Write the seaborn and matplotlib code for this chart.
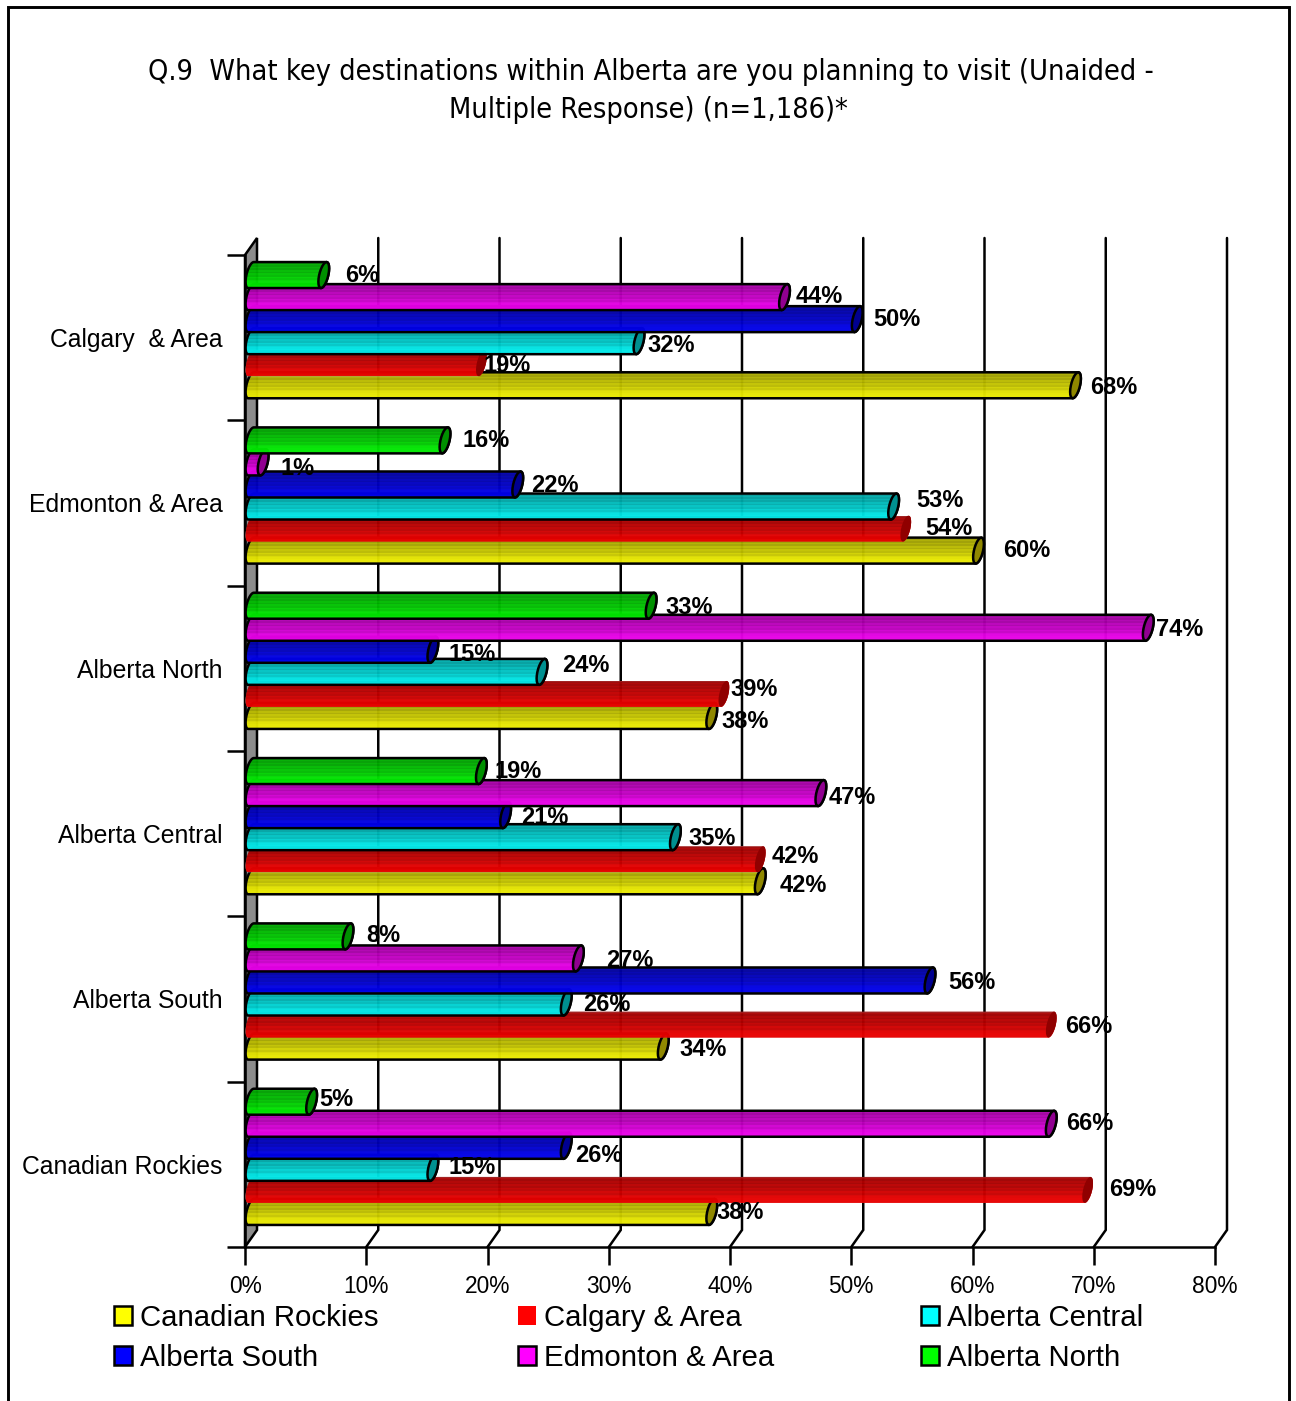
import numpy as np
import pandas as pd
import matplotlib
matplotlib.use("Agg")
import matplotlib.pyplot as plt
import seaborn as sns
from matplotlib.patches import Patch, PathPatch, Polygon, Rectangle
from matplotlib.path import Path
from matplotlib.colors import to_rgb

destinations = ["Calgary  & Area", "Edmonton & Area", "Alberta North",
                "Alberta Central", "Alberta South", "Canadian Rockies"]
segments = ["Alberta North", "Edmonton & Area", "Alberta South",
            "Alberta Central", "Calgary & Area", "Canadian Rockies"]
north = [6, 16, 33, 19, 8, 5]
edmonton = [44, 1, 74, 47, 27, 66]
south = [50, 22, 15, 21, 56, 26]
central = [32, 53, 24, 35, 26, 15]
calgary = [19, 54, 39, 42, 66, 69]
rockies = [68, 60, 38, 42, 34, 38]
series = [north, edmonton, south, central, calgary, rockies]
segment_colors = ["#00ff00", "#ff00ff", "#0000ff", "#00ffff", "#ff0000", "#ffff00"]
cap_colors = ["#009000", "#900090", "#000090", "#009090", "#900000", "#908800"]
x_ticks = [0, 10, 20, 30, 40, 50, 60, 70, 80]
legend_columns = [["Canadian Rockies", "Alberta South"],
                  ["Calgary & Area", "Edmonton & Area"],
                  ["Alberta Central", "Alberta North"]]

# hand placement of value labels, in pixels from the end of each bar
label_dx = [[21, 17, 14, 13.6, 18, 7.4],
            [11.5, 17, 8, 8, 27.6, 15],
            [16, 13, 16, 15, 18, 9],
            [8, 23, 20, 12.6, 17, 16],
            [2.6, 19, 7, 11, 14, 22],
            [14.5, 24.5, 10, 19, 16, 5]]
label_dy = [[-1.5, -2, 0, -2, -3, -4],
            [-2.5, 4, 0, 2, 0, -2],
            [-1.5, -1, 3, 0, 0, 8],
            [2.5, -8, -8, -1, 0, -2],
            [0.5, -2, -6, -5, 0, -2],
            [0.5, -2, 4, 2, 1, -1]]

df = pd.DataFrame({
    "destination": destinations * len(segments),
    "segment": np.repeat(segments, len(destinations)),
    "share": np.concatenate(series),
})

W, H = 1296, 1401
sns.set_theme(style="white")
plt.rcParams["font.family"] = ["Liberation Sans", "DejaVu Sans"]
plt.rcParams["text.color"] = "black"
plt.rcParams["xtick.color"] = "black"
plt.rcParams["ytick.color"] = "black"

fig = plt.figure(figsize=(W / 100, H / 100), dpi=100, facecolor="white")
ax = fig.add_axes([245 / W, 1 - 1247 / H, 970 / W, 992 / H])
sns.barplot(data=df, y="destination", x="share", hue="segment",
            order=destinations, hue_order=segments,
            palette=dict(zip(segments, segment_colors)),
            saturation=1, width=0.8, gap=0, legend=False, ax=ax, zorder=5)
ax.set_xlim(0, 80)
ax.set_ylim(5.5, -0.5)
ax.set_xlabel("")
ax.set_ylabel("")
ax.grid(False)

# pixel sizes expressed in data units
px_x = 80 / 970
px_y = 6 / 992
depth_x, depth_y = 12 * px_x, 17 * px_y
LW = 1.8

# side wall and back-plane rules of the pseudo-3D frame
ax.add_patch(Polygon([(0, 5.5), (depth_x, 5.5 - depth_y), (depth_x, -0.5 - depth_y), (0, -0.5)],
                     closed=True, facecolor="#8c8c8c", edgecolor="black", lw=LW,
                     clip_on=False, zorder=1))
for v in x_ticks[1:]:
    ax.plot([v, v + depth_x, v + depth_x], [5.5, 5.5 - depth_y, -0.5 - depth_y],
            color="black", lw=LW, clip_on=False, zorder=1, solid_joinstyle="miter")

# stripe pattern across the height of a cylinder, dark at the top
shade = np.array([.58, .66, .60, .68, .62, .72, .66, .76, .72, .82, .78, .86, .90, .92, .93, .92])


def cylinder_end(xc, yc, half_h, start, stop):
    t = np.radians(np.linspace(start, stop, 25))
    return np.column_stack([xc + 4.6 * px_x * np.cos(t) - 2.8 * px_x * np.sin(t),
                            yc + half_h * np.sin(t)])


half_h = 13 * px_y
for k, container in enumerate(ax.containers):
    base = np.array(to_rgb(segment_colors[k]))
    rgb = np.clip(shade[:, None, None] * base[None, None, :], 0, 1)
    edge = "black" if segments[k] != "Calgary & Area" else "none"
    for i, bar in enumerate(container):
        value = bar.get_width()
        yc = bar.get_y() + bar.get_height() / 2 - 7.5 * px_y
        x0, x1 = depth_x / 2, value + depth_x / 2
        z = 6 - k * 0.1
        outline = np.vstack([cylinder_end(x0, yc, half_h, 270, 90),
                             cylinder_end(x1, yc, half_h, 90, -90)])
        body = PathPatch(Path(np.vstack([outline, outline[:1]]), closed=True),
                         facecolor="none", edgecolor=edge, lw=LW, zorder=z + 0.02, clip_on=False)
        ax.add_patch(body)
        bar.set_y(yc - half_h)
        bar.set_height(2 * half_h)
        bar.set_x(0)
        bar.set_width(x1 + 6 * px_x)
        bar.set_facecolor(base * 0.8)
        bar.set_alpha(0.75)
        bar.set_zorder(z)
        bar.set_clip_path(body)
        im = ax.imshow(rgb, extent=[0, x1 + 6 * px_x, yc + half_h, yc - half_h], aspect="auto",
                       interpolation="nearest", alpha=0.85, zorder=z + 0.01)
        im.set_clip_path(body)
        cap = Polygon(cylinder_end(x1, yc, half_h, 0, 360), closed=True,
                      facecolor=cap_colors[k], edgecolor=edge, lw=LW, zorder=z + 0.03, clip_on=False)
        ax.add_patch(cap)
        ax.annotate(f"{value:.0f}%", xy=(x1, yc),
                    xytext=(label_dx[k][i], -label_dy[k][i] - 2), textcoords="offset pixels",
                    ha="left", va="center", fontsize=17, fontweight="bold", zorder=20,
                    annotation_clip=False)
ax.set_xlim(0, 80)
ax.set_ylim(5.5, -0.5)
ax.set_aspect("auto")

# axes, ticks
sns.despine(ax=ax, top=True, right=True)
for side in ("left", "bottom"):
    ax.spines[side].set_linewidth(LW)
    ax.spines[side].set_color("black")
    ax.spines[side].set_zorder(3)
ax.set_xticks(x_ticks, [f"{v}%" for v in x_ticks])
ax.tick_params(axis="x", bottom=True, length=13, width=LW, pad=7, labelsize=16.4)
ax.tick_params(axis="y", which="major", left=False, length=0, pad=16, labelsize=17.8)
ax.set_yticks(np.arange(-0.5, 6, 1), minor=True)
ax.tick_params(axis="y", which="minor", left=True, length=13, width=LW)

# legend along the bottom, one block per column
for names, left in zip(legend_columns, [114, 518, 921]):
    handles = []
    for name in names:
        c = segment_colors[segments.index(name)]
        handles.append(Patch(facecolor=c, edgecolor="none" if name == "Calgary & Area" else "black",
                             lw=LW, label=name))
    fig.legend(handles=handles, ncol=1, loc="upper left", bbox_to_anchor=(left / W, 1 - 1304 / H),
               frameon=False, fontsize=21.15, handlelength=0.62, handleheight=0.62, handletextpad=0.27,
               borderpad=0, borderaxespad=0, labelspacing=0.4)

# heading and outer frame
title_font = dict(ha="center", va="center", fontsize=20.7, family="DejaVu Sans", stretch="condensed")
fig.text(651 / W, 1 - 72.5 / H, "Q.9  What key destinations within Alberta are you planning to visit (Unaided -",
         **title_font)
fig.text(648 / W, 1 - 110.5 / H, "Multiple Response) (n=1,186)*", **title_font)
fig.add_artist(Rectangle((8 / W, -0.05), 1281 / W, 1 - 7 / H + 0.05, transform=fig.transFigure,
                         facecolor="none", edgecolor="black", lw=2.1, zorder=-1))
fig.savefig("out.png", dpi=100)
